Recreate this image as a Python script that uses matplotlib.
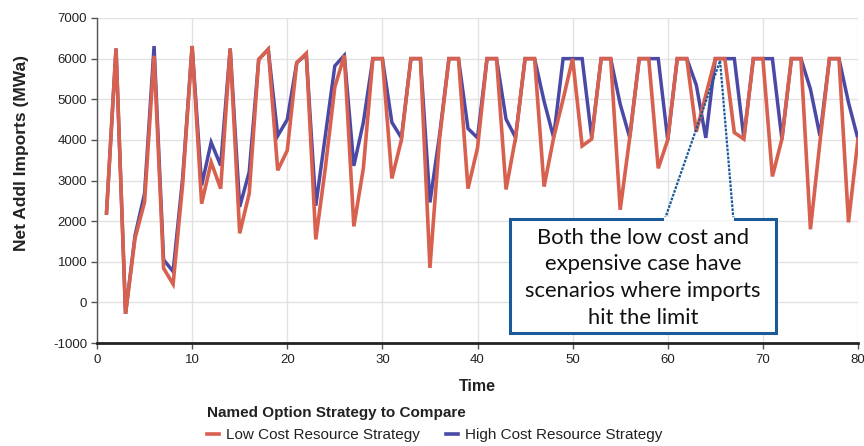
import matplotlib
matplotlib.use("Agg")
import matplotlib.pyplot as plt
from matplotlib.patches import Polygon
from matplotlib.lines import Line2D

time = list(range(1, 81))

low_cost = [2200, 6250, -280, 1580, 2470, 6070, 840, 450, 2900, 6310,
            2430, 3450, 2800, 6245, 1700, 2680, 5980, 6230, 3250, 3740,
            5900, 6130, 1550, 3300, 5300, 6080, 1870, 3300, 6000, 6000,
            3050, 4000, 6000, 6000, 850, 4000, 6000, 6000, 2800, 3800,
            6000, 6000, 2780, 4050, 6000, 6000, 2850, 4050, 5000, 6000,
            3850, 4020, 6000, 6000, 2280, 4050, 6000, 6000, 3300, 4000,
            6000, 6000, 4200, 5100, 6000, 6000, 4180, 4020, 6000, 6000,
            3100, 4020, 6000, 6000, 1800, 3950, 6000, 6000, 1970, 4020]

high_cost = [2200, 6250, -280, 1650, 2680, 6310, 1050, 760, 3050, 6310,
             2880, 3940, 3370, 6250, 2350, 3210, 5980, 6230, 4100, 4500,
             5900, 6100, 2380, 4100, 5820, 6080, 3360, 4430, 6000, 6000,
             4430, 4050, 6000, 6000, 2460, 4100, 6000, 6000, 4280, 4050,
             6000, 6000, 4510, 4060, 6000, 6000, 4950, 4060, 6000, 6000,
             6000, 4060, 6000, 6000, 4880, 4060, 6000, 6000, 6000, 4000,
             6000, 6000, 5350, 4050, 6000, 6000, 6000, 4050, 6000, 6000,
             6000, 4020, 6000, 6000, 5250, 4100, 6000, 6000, 4920, 4020]

series_names = ["Low Cost Resource Strategy", "High Cost Resource Strategy"]
x_ticks = list(range(0, 81, 10))
y_ticks = list(range(-1000, 7001, 1000))

RED = "#D8604F"
BLUE = "#4A4AA6"

plt.rcParams['font.family'] = ['Liberation Sans', 'DejaVu Sans']
plt.rcParams['axes.unicode_minus'] = False

fig = plt.figure(figsize=(8.64, 4.46), dpi=100)
ax = fig.add_axes([97/864, 1-343/446, (858-97)/864, (343-18)/446])

ax.plot(time, high_cost, color=BLUE, lw=2.5, label=series_names[1], zorder=3,
        solid_joinstyle='miter')
ax.plot(time, low_cost, color=RED, lw=2.6, label=series_names[0], zorder=4,
        solid_joinstyle='miter')

ax.set_xlim(0, 80)
ax.set_ylim(-1000, 7000)
ax.set_xticks(x_ticks)
ax.set_yticks(y_ticks)
ax.grid(True, color="#E2E2E2", lw=1.0, zorder=0)
ax.set_axisbelow(True)
for s in ["top", "right"]:
    ax.spines[s].set_visible(False)
ax.spines["left"].set_color("#555555")
ax.spines["left"].set_linewidth(1.0)
ax.spines["bottom"].set_color("#222222")
ax.spines["bottom"].set_linewidth(2.0)
ax.tick_params(axis='y', length=4, width=1, color="#555555", labelsize=9.5,
               labelcolor="#222222", pad=3)
ax.tick_params(axis='x', length=4, width=1, color="#555555", labelsize=9.5,
               labelcolor="#222222", pad=4)

ax.set_ylabel("Net Addl Imports (MWa)", fontsize=12.5, fontweight='bold',
              color="#222222")
ax.yaxis.set_label_coords(-0.09, 0.585)
ax.set_xlabel("Time", fontsize=11.5, fontweight='bold', color="#222222",
              labelpad=9)

# Legend
leg = fig.legend(handles=[Line2D([], [], color=RED, lw=2.6),
                          Line2D([], [], color=BLUE, lw=2.6)],
                 labels=series_names, loc='upper left',
                 bbox_to_anchor=(198/864, 1-397/446), ncol=2, frameon=False,
                 title="Named Option Strategy to Compare",
                 title_fontproperties={'weight': 'bold', 'size': 11},
                 fontsize=11, handlelength=0.75, handletextpad=0.5,
                 columnspacing=1.7, alignment='left', borderpad=0.1,
                 labelspacing=0.2)
for t in leg.get_texts():
    t.set_color("#222222")
leg.get_title().set_color("#222222")
leg._legend_box.sep = 6

# Callout
box_l, box_r = 43.4, 71.4
box_t, box_b = 2050, -760
w_l, w_r = 59.7, 66.9
tip = (65.5, 5950)
cal_col = "#1B5A99"
box = Polygon([[box_l, box_t], [box_r, box_t], [box_r, box_b], [box_l, box_b]],
              closed=True, facecolor='white', edgecolor=cal_col, lw=2.2,
              zorder=6, clip_on=False)
ax.add_patch(box)
ax.plot([w_l, tip[0], w_r], [box_t, tip[1], box_t], color=cal_col, lw=1.6,
        ls=(0, (1.2, 0.6)), zorder=7, clip_on=False)
ax.plot([w_l + 0.1, w_r - 0.1], [box_t, box_t], color='white', lw=2.8,
        zorder=7, clip_on=False)
ax.text((box_l + box_r) / 2, (box_t + box_b) / 2 - 40,
        "Both the low cost and\nexpensive case have\nscenarios where imports\nhit the limit",
        ha='center', va='center', fontsize=15.8, family=['Lato', 'DejaVu Sans'],
        linespacing=1.42, color="#111111", zorder=8)

fig.savefig("out.png", dpi=100)
